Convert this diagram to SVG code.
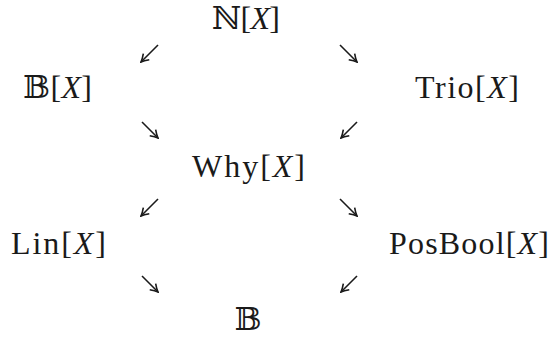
<svg xmlns="http://www.w3.org/2000/svg" width="553" height="341" viewBox="0 0 553 341">
<style>
text{font-family:"Liberation Serif","DejaVu Serif",serif;font-size:32px;fill:#1a1a1a;text-anchor:middle}
.i{font-style:italic}
.c line{stroke:#1a1a1a;stroke-width:1.6;marker-end:url(#ah)}
</style>
<defs>
<marker id="ah" viewBox="-9 -5 10 10" refX="0" refY="0" markerWidth="10" markerHeight="10" markerUnits="userSpaceOnUse" orient="auto">
<path d="M-7.5,-4.2 Q-3,-1 0,0 Q-3,1 -7.5,4.2" fill="none" stroke="#1a1a1a" stroke-width="1.6"/>
</marker>
</defs>
<rect width="553" height="341" fill="#fff"/>
<g id="NX"><text x="246" y="29" textLength="68" lengthAdjust="spacing">ℕ[<tspan class="i">X</tspan>]</text></g>
<g id="BX"><text x="57.5" y="98" textLength="69" lengthAdjust="spacing">𝔹[<tspan class="i">X</tspan>]</text></g>
<g id="TrioX"><text x="467" y="98" textLength="104" lengthAdjust="spacing">Trio[<tspan class="i">X</tspan>]</text></g>
<g id="WhyX"><text x="248.5" y="177" textLength="113" lengthAdjust="spacing">Why[<tspan class="i">X</tspan>]</text></g>
<g id="LinX"><text x="58.5" y="254" textLength="95" lengthAdjust="spacing">Lin[<tspan class="i">X</tspan>]</text></g>
<g id="PosBoolX"><text x="469" y="254" textLength="160" lengthAdjust="spacing">PosBool[<tspan class="i">X</tspan>]</text></g>
<g id="B"><text x="248" y="330">𝔹</text></g>
<g id="connectors" class="c">
<line x1="158" y1="45" x2="141" y2="62"/>
<line x1="340" y1="45" x2="357" y2="62"/>
<line x1="142" y1="122" x2="158" y2="138"/>
<line x1="357" y1="122" x2="341" y2="138"/>
<line x1="158" y1="199" x2="141" y2="216"/>
<line x1="340" y1="199" x2="357" y2="216"/>
<line x1="142" y1="276" x2="158" y2="292"/>
<line x1="357" y1="276" x2="341" y2="292"/>
</g>
</svg>
